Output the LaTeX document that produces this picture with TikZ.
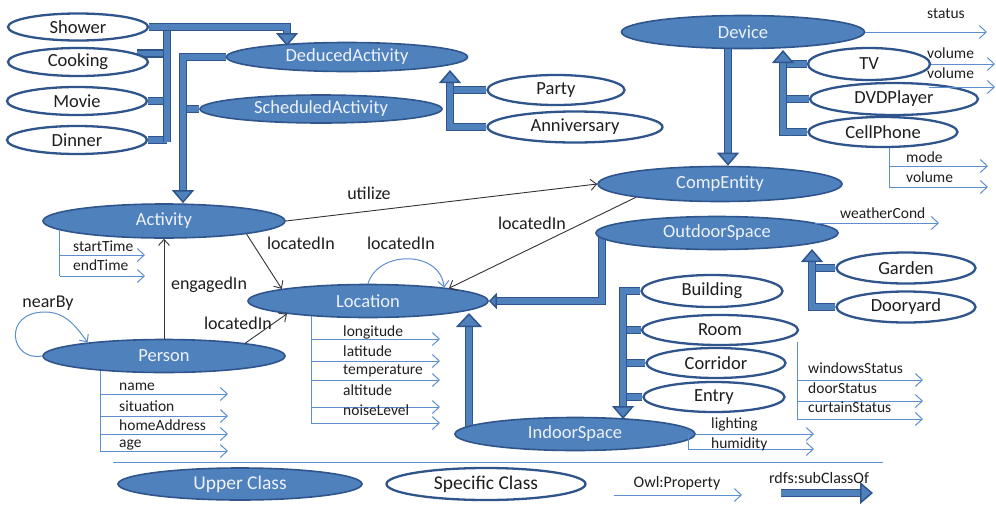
\documentclass[tikz,border=0pt]{standalone}
\usepackage{fontspec}
\setmainfont{Carlito}
\usetikzlibrary{shapes.geometric,arrows.meta}
\pgfdeclarelayer{bg}
\pgfsetlayers{bg,main}
\definecolor{ublue}{RGB}{79,129,189}
\definecolor{bdark}{RGB}{47,85,140}
\definecolor{pblue}{RGB}{92,142,208}
\definecolor{txt}{RGB}{30,30,30}
\definecolor{ltxt}{RGB}{238,242,250}
\begin{document}
\begin{tikzpicture}[x=1pt,y=-1pt,
  upper/.style={ellipse,fill=ublue,draw=bdark,line width=1.6pt,text=ltxt,font=\fontsize{18.5}{20}\selectfont,inner sep=0pt},
  spec/.style={ellipse,fill=white,draw=bdark,line width=2.3pt,text=txt,font=\fontsize{18.5}{20}\selectfont,inner sep=0pt},
  sz/.style 2 args={minimum width=#1pt,minimum height=#2pt},
  pline/.style={draw=pblue,line width=1pt},
  prop/.style={pline,-{Straight Barb[length=7pt,width=13pt,line width=1pt]}},
  plab/.style={anchor=west,font=\fontsize{15.5}{16}\selectfont,text=txt,inner sep=0pt},
  rel/.style={draw=black!80,line width=0.9pt,-{Straight Barb[length=6pt,width=11pt,line width=0.9pt]}},
  loopln/.style={draw=pblue,line width=1pt,-{Straight Barb[length=6pt,width=11pt,line width=1pt]}},
  rlab/.style={font=\fontsize{18}{20}\selectfont,text=txt,inner sep=0pt},
  sub/.style={draw=bdark,line width=1.5pt,double=ublue,double distance=5.5pt},
  subarr/.style={sub,-{Triangle[width=22pt,length=13pt,fill=ublue,line width=1.5pt]}},
  subbig/.style={sub,-{Triangle[width=26pt,length=14pt,fill=ublue,line width=1.5pt]}},
  subsmall/.style={sub,-{Triangle[width=16pt,length=8pt,fill=ublue,line width=1.5pt]}},
]
\useasboundingbox (0,0) rectangle (996,504);

% ---------- classes ----------
\node[spec,sz={140}{27}] (shower) at (78,27) {Shower};
\node[spec,sz={140}{28}] (cooking) at (78,62) {Cooking};
\node[spec,sz={140}{28}] (movie) at (77,101) {Movie};
\node[spec,sz={140}{28}] (dinner) at (77,140) {Dinner};
\node[upper,sz={241}{29}] (deduced) at (347,57) {DeducedActivity};
\node[upper,sz={242}{28}] (scheduled) at (321,109) {ScheduledActivity};
\node[spec,sz={137}{30}] (party) at (556,90) {Party};
\node[spec,sz={175}{31}] (anniv) at (575,127) {Anniversary};
\node[upper,sz={243}{33}] (device) at (743,32) {Device};
\node[spec,sz={122}{32}] (tv) at (869,64) {TV};
\node[spec,sz={168}{32}] (dvd) at (894,99) {DVDPlayer};
\node[spec,sz={149}{30}] (cell) at (883,132) {CellPhone};
\node[upper,sz={244}{35}] (comp) at (720,184) {CompEntity};
\node[upper,sz={242}{34}] (activity) at (164,221) {Activity};
\node[upper,sz={242}{33}] (person) at (164,356) {Person};
\node[upper,sz={240}{33}] (location) at (368,301) {Location};
\node[upper,sz={242}{33}] (outdoor) at (717,233) {OutdoorSpace};
\node[spec,sz={139}{31}] (garden) at (906,268) {Garden};
\node[spec,sz={139}{31}] (dooryard) at (906,307) {Dooryard};
\node[spec,sz={141}{32}] (building) at (712,291) {Building};
\node[spec,sz={156}{30}] (room) at (720,330) {Room};
\node[spec,sz={139}{30}] (corridor) at (716,363) {Corridor};
\node[spec,sz={141}{30}] (entry) at (714,397) {Entry};
\node[upper,sz={240}{33}] (indoor) at (575,434) {IndoorSpace};

% ---------- subclass connectors ----------
\begin{pgfonlayer}{bg}
\coordinate (busA) at (167,142);
\coordinate (busAt) at (167,24);
\draw[sub] (cooking.8) -- (cooking.8 -| busA);
\draw[sub] (movie.east) -- (movie.east -| busA);
\draw[sub] (dinner.east) -- (dinner.east -| busA);
\draw[sub] (busAt) -- (busA);
\coordinate (dtop) at (287,46);
\draw[subarr] (shower.east) -| (dtop);
\coordinate (actbus) at (183,58);
\draw[sub] (scheduled.west) -- (scheduled.west -| actbus);
\draw[subarr] (deduced.west) -| (actbus |- activity.north);
\coordinate (ptop) at (450,70);
\draw[sub] (party.west) -- (party.west -| ptop);
\draw[subarr] (anniv.west) -| (ptop);
\coordinate (dvtop) at (783,50);
\draw[sub] (tv.west) -- (tv.west -| dvtop);
\draw[sub] (dvd.west) -- (dvd.west -| dvtop);
\draw[subarr] (cell.west) -| (dvtop);
\coordinate (dcx) at (728,100);
\draw[subarr] (dcx |- device.south) -- (dcx |- comp.north);
\coordinate (gtop) at (812,249);
\draw[sub] (garden.west) -- (garden.west -| gtop);
\draw[subarr] (dooryard.west) -| (gtop);
\coordinate (ov) at (602,301);
\draw[subsmall] (ov |- outdoor.center) |- (location.east);
\coordinate (ivt) at (469,313);
\draw[subbig] (ivt |- indoor.center) -- (ivt);
\coordinate (bbot) at (623,419);
\draw[sub] (room.west) -- (room.west -| bbot);
\draw[sub] (corridor.west) -- (corridor.west -| bbot);
\draw[sub] (entry.west) -- (entry.west -| bbot);
\draw[subarr] (building.west) -| (bbot);
\end{pgfonlayer}

% ---------- relations ----------
\draw[rel] (activity.east) -- (comp.west);
\node[rlab] (lutil) at (369,193) {utilize};
\draw[rel] (activity.-9) -- (location.172);
\node[rlab] (lloc1) at (301,243) {locatedIn};
\draw[rel] (person.9) -- (location.189);
\node[rlab] (lloc2) at (238,323) {locatedIn};
\draw[rel] (person.north) -- (activity.south);
\node[rlab] (leng) at (209,285) {engagedIn};
\draw[rel] (comp.189) -- (location.9);
\node[rlab] (lloc3) at (532,223) {locatedIn};
\draw[loopln] (location.north) .. controls (378,250) and (440,250) .. (location.10);
\node[rlab] (lloc4) at (401,243) {locatedIn};
\draw[loopln] (person.west) .. controls (10,362) and (2,312) .. (45,312) .. controls (65,312) and (76,326) .. (person.170);
\node[rlab] (lnear) at (48,303) {nearBy};

% ---------- properties ----------
% Activity
\coordinate (at1) at (145,255); \coordinate (at2) at (145,276);
\draw[pline] (activity.185) -- (activity.185 |- at2);
\draw[prop] (activity.185 |- at1) -- (at1);
\draw[prop] (activity.185 |- at2) -- (at2);
\node[plab] (pst) at (73,246) {startTime};
\node[plab] (pet) at (73,265) {endTime};
% Person
\coordinate (pn1) at (228,394); \coordinate (pn2) at (228,416);
\coordinate (pn3) at (228,434); \coordinate (pn4) at (228,451);
\draw[pline] (person.193) -- (person.193 |- pn4);
\foreach \c in {pn1,pn2,pn3,pn4} \draw[prop] (person.193 |- \c) -- (\c);
\node[plab] (pnm) at (119,387) {name};
\node[plab] (psi) at (119,406) {situation};
\node[plab] (pha) at (119,425) {homeAddress};
\node[plab] (pag) at (119,445) {age};
% Location
\coordinate (lo1) at (440,339); \coordinate (lo2) at (440,361);
\coordinate (lo3) at (440,380); \coordinate (lo4) at (440,407);
\coordinate (lo5) at (440,423);
\draw[pline] (location.195) -- (location.195 |- lo5);
\foreach \c in {lo1,lo2,lo3,lo4,lo5} \draw[prop] (location.195 |- \c) -- (\c);
\node[plab] (plon) at (343,332) {longitude};
\node[plab] (plat) at (343,351) {latitude};
\node[plab] (ptem) at (343,371) {temperature};
\node[plab] (palt) at (343,390) {altitude};
\node[plab] (pnoi) at (343,410) {noiseLevel};
% IndoorSpace
\coordinate (il) at (814,434); \coordinate (ih) at (814,449); \coordinate (iv2) at (688,449);
\draw[prop] (indoor.east) -- (il);
\draw[pline] (iv2 |- indoor.east) -- (iv2);
\draw[prop] (iv2) -- (ih);
\node[plab] (pli) at (711,424) {lighting};
\node[plab] (phu) at (711,444) {humidity};
% Room
\coordinate (rtop) at (797,342); \coordinate (rbot) at (797,419);
\coordinate (rs1) at (923,380); \coordinate (rs2) at (923,401); \coordinate (rs3) at (923,419);
\draw[pline] (rtop) -- (rbot);
\foreach \c in {rs1,rs2,rs3} \draw[prop] (rtop |- \c) -- (\c);
\node[plab] (pws) at (808,368) {windowsStatus};
\node[plab] (pds) at (808,388) {doorStatus};
\node[plab] (pcs) at (808,407) {curtainStatus};
% OutdoorSpace
\coordinate (wc) at (939,223);
\draw[prop] (outdoor.6 |- wc) -- (wc);
\node[plab] (pwc) at (840,213) {weatherCond};
% Device
\coordinate (st) at (987,32);
\draw[prop] (device.east) -- (st);
\node[plab] (pstat) at (927,14) {status};
\coordinate (tv1) at (995,64);
\draw[prop] (tv.east) -- (tv1);
\node[plab] (pv1) at (927,53) {volume};
\coordinate (v2s) at (929,87); \coordinate (v2e) at (995,87);
\draw[prop] (v2s) -- (v2e);
\node[plab] (pv2) at (927,73) {volume};
% CellPhone
\coordinate (cv) at (889,187); \coordinate (cm) at (988,166); \coordinate (cvv) at (988,187);
\draw[pline] (cv |- cell.south) -- (cv);
\draw[prop] (cv |- cm) -- (cm);
\draw[prop] (cv) -- (cvv);
\node[plab] (pmo) at (906,157) {mode};
\node[plab] (pvo) at (906,177) {volume};

% ---------- legend ----------
\coordinate (sepL) at (113,462); \coordinate (sepR) at (883,462);
\draw[pline] (sepL) -- (sepR);
\node[upper,sz={244}{32},font=\fontsize{19.5}{21}\selectfont] (lup) at (240,484) {Upper Class};
\node[spec,sz={199}{32},font=\fontsize{19.5}{21}\selectfont] (lspec) at (486,484) {Specific Class};
\coordinate (op1) at (614,495); \coordinate (op2) at (742,495);
\draw[prop] (op1) -- (op2);
\node[rlab,font=\fontsize{16}{18}\selectfont] (lop) at (677,483) {Owl:Property};
\coordinate (sc1) at (781,493); \coordinate (sc2) at (873,493);
\draw[subarr] (sc1) -- (sc2);
\node[rlab,font=\fontsize{16}{18}\selectfont] (lsc) at (819,478) {rdfs:subClassOf};
\end{tikzpicture}
\end{document}
